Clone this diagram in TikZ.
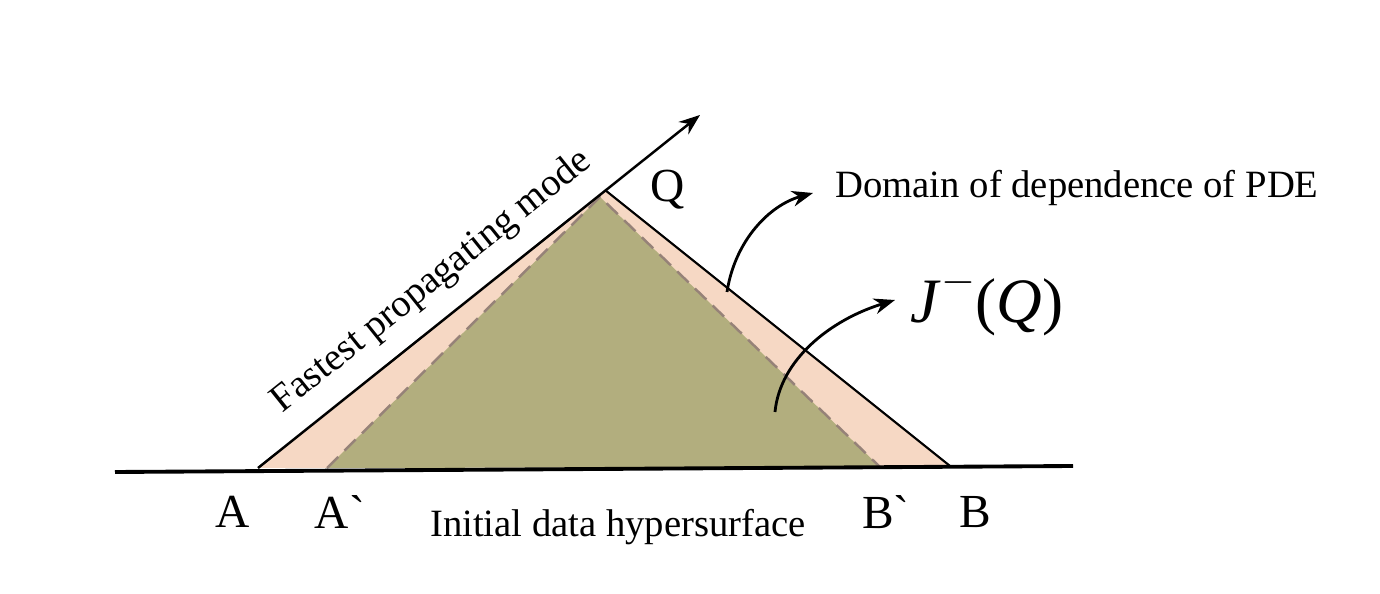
\documentclass[tikz,border=0pt]{standalone}
\usepackage{fontspec}
\setmainfont{Liberation Serif}
\usetikzlibrary{arrows.meta}
\begin{document}
\begin{tikzpicture}[x=0.02cm,y=-0.02cm,
  lbl/.style={font=\fontsize{27}{30}\selectfont},
  txt/.style={font=\fontsize{22}{26}\selectfont},
  arr/.style={line width=1.6pt,-{Stealth[length=12pt,width=9pt]}}]
\useasboundingbox (0,0) rectangle (1380,594);
\coordinate (A) at (258,468);
\coordinate (Q) at (605,190);
\coordinate (B) at (950,466);
\coordinate (Ap) at (327,468);
\coordinate (Bp) at (880,467);
\coordinate (Qi) at (600,197);
\coordinate (T) at (700,115);
\fill[fill={rgb,255:red,246;green,216;blue,196}] (A) -- (Q) -- (B) -- cycle;
\fill[fill={rgb,255:red,178;green,174;blue,126}] (Ap) -- (Qi) -- (Bp) -- cycle;
\draw[color={rgb,255:red,150;green,130;blue,120},dash pattern=on 9pt off 5pt,line width=1.4pt] (Ap) -- (Qi) -- (Bp);
\draw[line width=1.2pt] (Q) -- (B);
\draw[arr,line width=1.4pt] (A) -- (T);
\coordinate (L1) at (115,472);
\coordinate (L2) at (1073,466);
\draw[line width=2.2pt] (L1) -- (L2);
\node[txt,rotate=38.7] (fpm) at (432,282) {Fastest propagating mode};
\node[lbl] (q) at (668,190) {Q};
\node[txt] (dom) at (1077,188) {Domain of dependence of PDE};
\node[font=\fontsize{36}{40}\selectfont] (j) at (987,302) {\textit{J}\raisebox{0.45em}{\fontsize{24}{26}\selectfont$-$}(\textit{Q})};
\node[lbl] (a) at (233,512) {A};
\node[lbl] (ap) at (340,512) {A\textasciigrave};
\node[lbl] (bp) at (886,512) {B\textasciigrave};
\node[lbl] (b) at (975,512) {B};
\node[txt] (init) at (618,527) {Initial data hypersurface};
\coordinate (c1s) at (727,292);
\coordinate (c1e) at (813,193);
\draw[arr] (c1s) .. controls (735,240) and (770,205) .. (c1e);
\coordinate (c2s) at (775,412);
\coordinate (c2e) at (895,300);
\draw[arr] (c2s) .. controls (780,360) and (830,320) .. (c2e);
\end{tikzpicture}
\end{document}
